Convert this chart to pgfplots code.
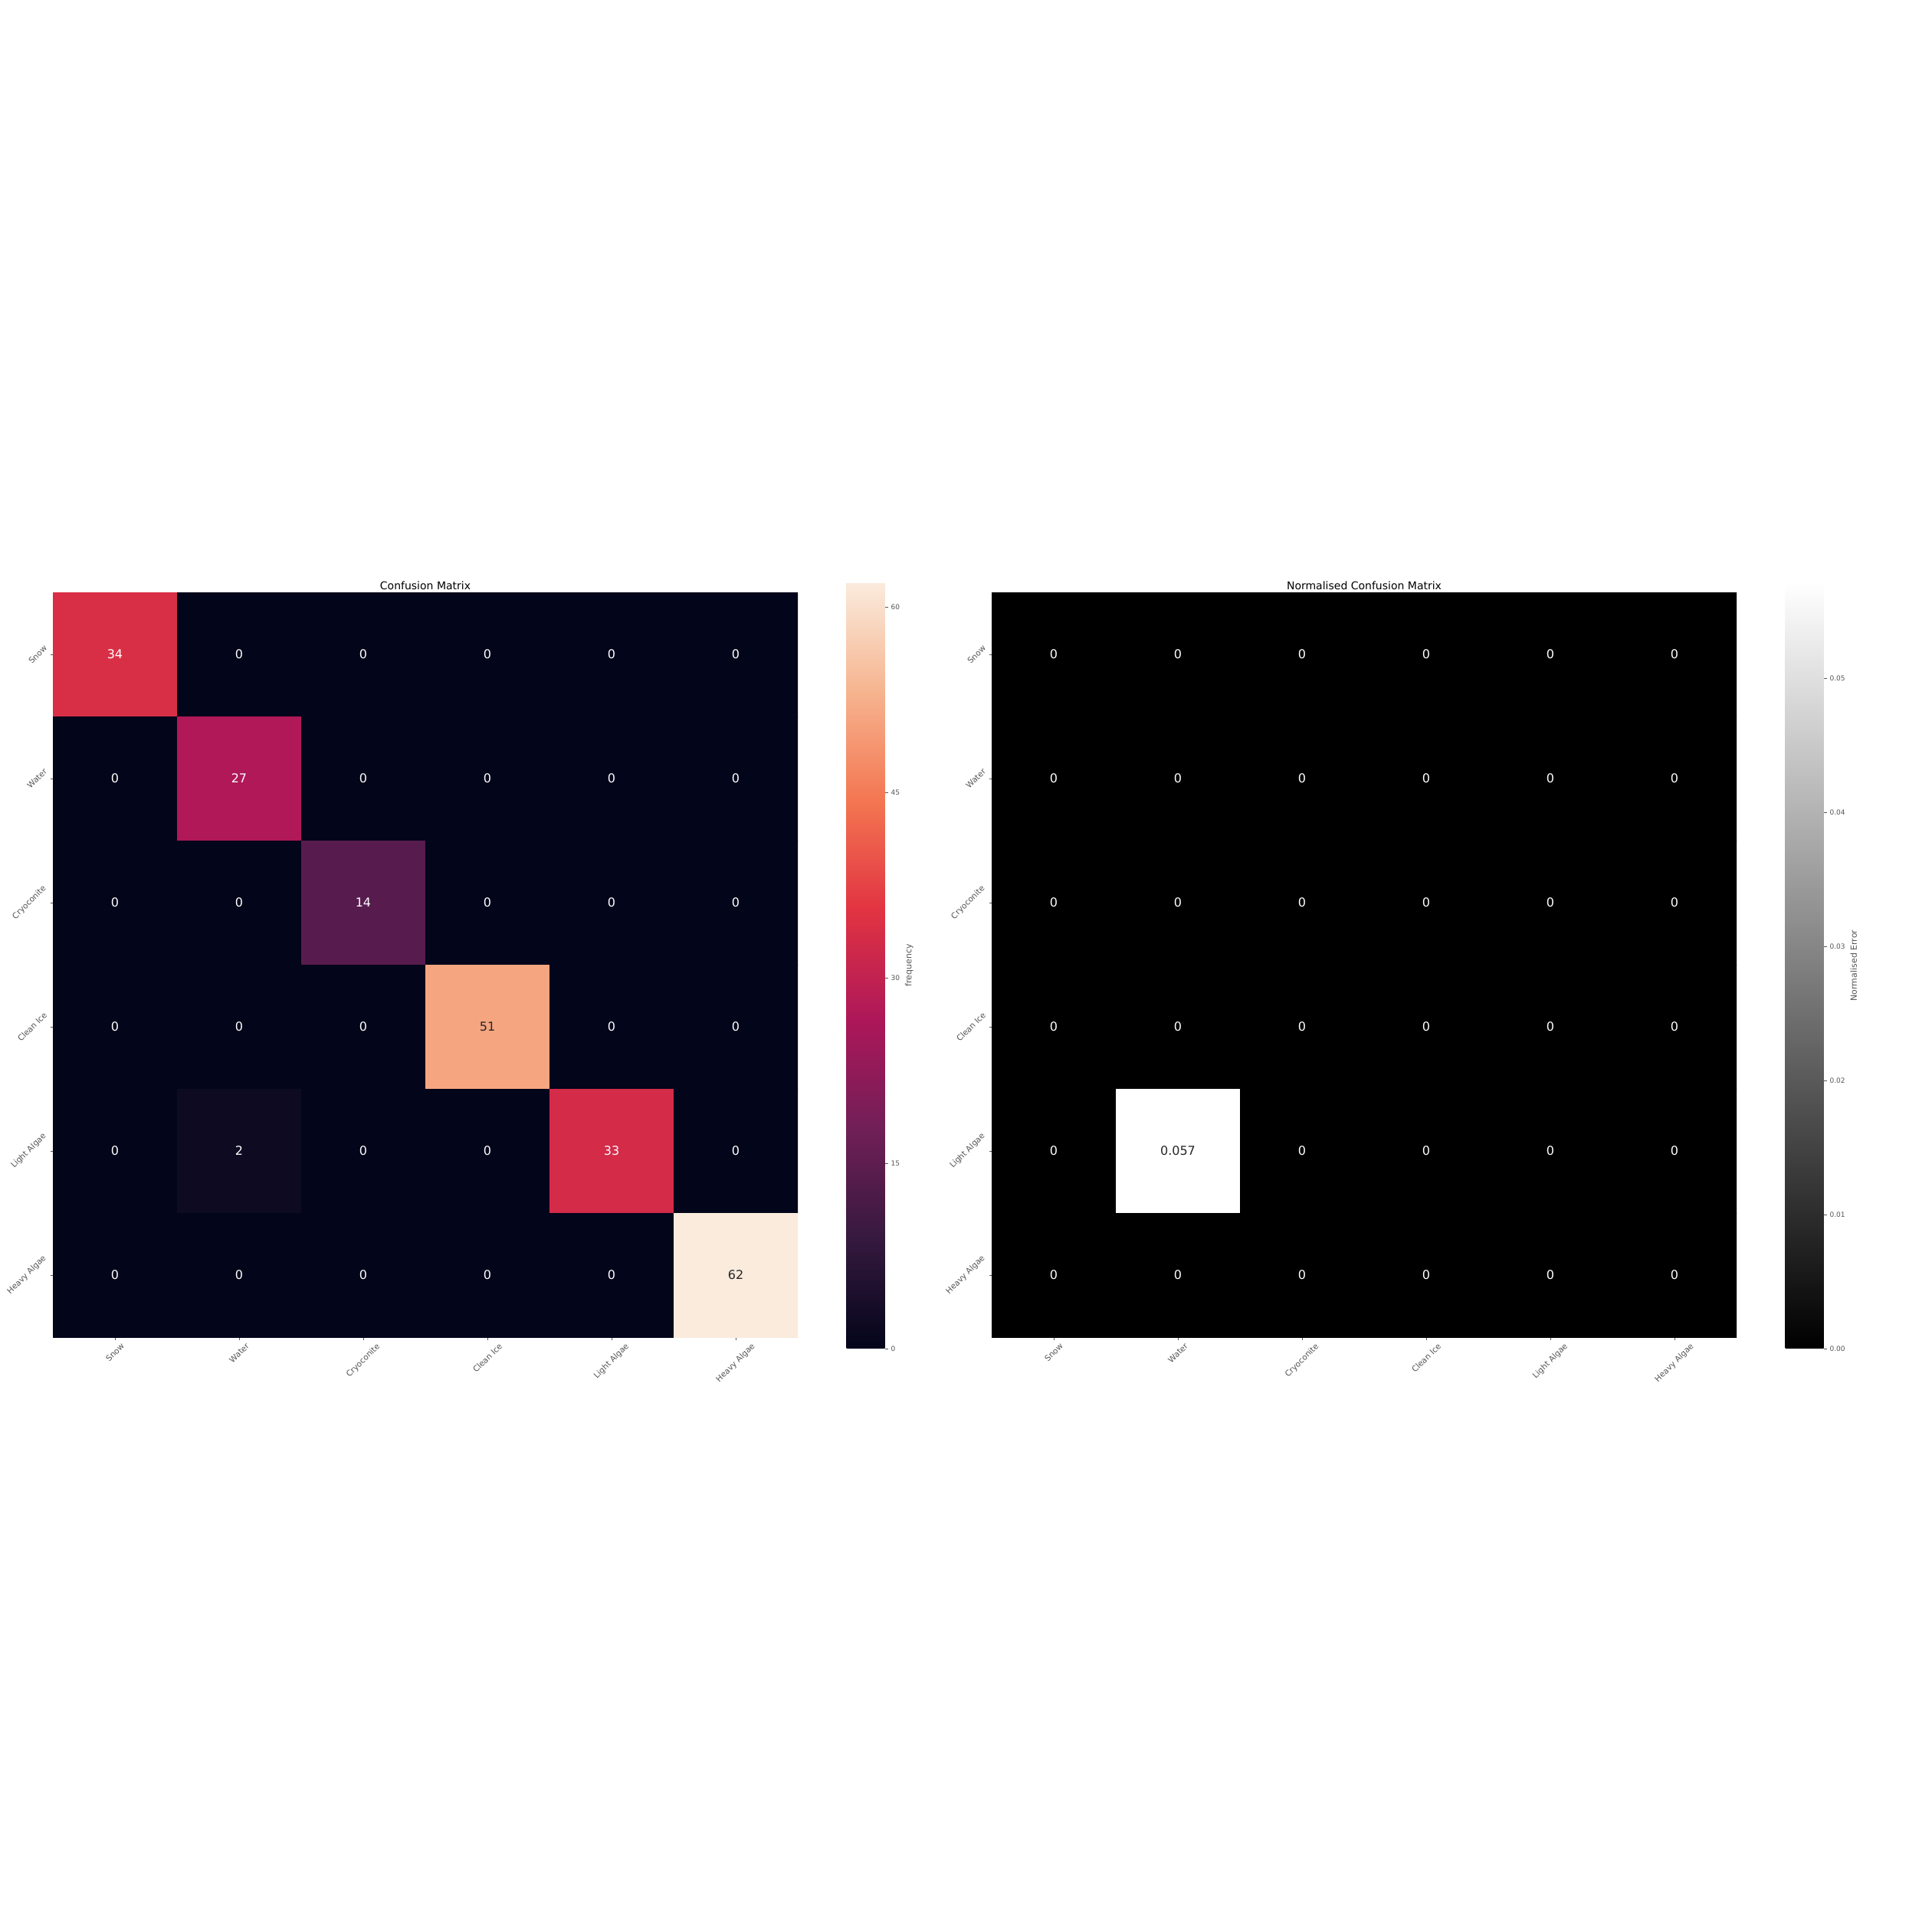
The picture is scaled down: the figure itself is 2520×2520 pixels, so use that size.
\documentclass[border=0pt]{standalone}
\usepackage{graphicx}
\usepackage{pgfplots}
\pgfplotsset{compat=1.18}
\usepackage{fontspec}
\setmainfont{DejaVu Sans}
\definecolor{tickgray}{RGB}{85,85,85}
\definecolor{annodark}{RGB}{38,38,38}
\pgfplotsset{
 colormap={rocket}{rgb255(0)=(3,5,26) rgb255(1)=(53,25,62) rgb255(2)=(112,31,87) rgb255(3)=(173,23,89) rgb255(4)=(225,51,66) rgb255(5)=(243,118,81) rgb255(6)=(246,180,143) rgb255(7)=(250,235,221)},
 colormap={greys}{rgb255(0)=(0,0,0) rgb255(1)=(255,255,255)},
 hm/.style={
  scale only axis, width=972pt, height=972pt, anchor=south west,
  xmin=-0.5, xmax=5.5, ymin=-0.5, ymax=5.5, y dir=reverse, enlargelimits=false,
  axis line style={draw=none},
  tick align=outside, major tick length=3.5pt, tick style={tickgray, line width=0.8pt},
  xtick pos=left, ytick pos=left,
  xtick={0,...,5}, ytick={0,...,5},
  xticklabels={\rotatebox{45}{Snow},\rotatebox{45}{Water},\rotatebox{45}{Cryoconite},\rotatebox{45}{Clean Ice},\rotatebox{45}{Light Algae},\rotatebox{45}{Heavy Algae}},
  yticklabels={\rotatebox{45}{Snow},\rotatebox{45}{Water},\rotatebox{45}{Cryoconite},\rotatebox{45}{Clean Ice},\rotatebox{45}{Light Algae},\rotatebox{45}{Heavy Algae}},
  xticklabel style={anchor=north, font=\fontsize{10.5}{12}\selectfont, text=tickgray},
  yticklabel style={anchor=east, font=\fontsize{10.5}{12}\selectfont, text=tickgray},
  title style={font=\fontsize{14}{16}\selectfont, text=black, yshift=-6pt},
  /pgf/number format/assume math mode=true,
  colorbar, colorbar/width=50pt,
 },
 cb/.style={
  at={(parent axis.south east)}, anchor=south west, xshift=55pt, yshift=-15pt,
  scale only axis, width=50pt, height=1000pt,
  xmin=0, xmax=1, y dir=normal, xtick=\empty,
  axis line style={draw=none},
  ytick pos=right, yticklabel pos=right,
  tick align=outside, major tick length=4.5pt, tick style={tickgray, line width=0.8pt},
  yticklabel style={font=\fontsize{9}{11}\selectfont, text=tickgray},
  ylabel style={font=\fontsize{11}{13}\selectfont, text=tickgray},
  /pgf/number format/assume math mode=true,
 },
 annw/.style={only marks, mark=none, point meta=explicit symbolic, nodes near coords, nodes near coords align=center,
  nodes near coords style={anchor=center, text=white, font=\fontsize{16}{19}\selectfont}},
 annd/.style={only marks, mark=none, point meta=explicit symbolic, nodes near coords, nodes near coords align=center,
  nodes near coords style={anchor=center, text=annodark, font=\fontsize{16}{19}\selectfont}},
}
\begin{document}
\begin{tikzpicture}
\useasboundingbox (0,0) rectangle (2520pt,2520pt);
\fill[white] (0,0) rectangle (2520pt,2520pt);
% ---------------- left: confusion matrix ----------------
\begin{axis}[hm, at={(69pt,775pt)}, title={Confusion Matrix},
  colormap name=rocket, point meta min=0, point meta max=62,
  colorbar style={cb, ytick={0,15,30,45,60}, ylabel={frequency}}]
\addplot[matrix plot*, mesh/cols=6, mesh/rows=6, point meta=explicit] table[meta=c] {
x y c
0 0 34
1 0 0
2 0 0
3 0 0
4 0 0
5 0 0
0 1 0
1 1 27
2 1 0
3 1 0
4 1 0
5 1 0
0 2 0
1 2 0
2 2 14
3 2 0
4 2 0
5 2 0
0 3 0
1 3 0
2 3 0
3 3 51
4 3 0
5 3 0
0 4 0
1 4 2
2 4 0
3 4 0
4 4 33
5 4 0
0 5 0
1 5 0
2 5 0
3 5 0
4 5 0
5 5 62
};
\addplot[annw] table[meta=t] {
x y t
0 0 34
1 0 0
2 0 0
3 0 0
4 0 0
5 0 0
0 1 0
1 1 27
2 1 0
3 1 0
4 1 0
5 1 0
0 2 0
1 2 0
2 2 14
3 2 0
4 2 0
5 2 0
0 3 0
1 3 0
2 3 0
4 3 0
5 3 0
0 4 0
1 4 2
2 4 0
3 4 0
4 4 33
5 4 0
0 5 0
1 5 0
2 5 0
3 5 0
4 5 0
};
\addplot[annd] table[meta=t] {
x y t
3 3 51
5 5 62
};
\end{axis}
% ---------------- right: normalised confusion matrix ----------------
\begin{axis}[hm, at={(1294pt,775pt)}, title={Normalised Confusion Matrix},
  colormap name=greys, point meta min=0, point meta max=0.05714,
  colorbar style={cb, ytick={0,0.01,0.02,0.03,0.04,0.05}, scaled y ticks=false,
   yticklabel style={/pgf/number format/fixed, /pgf/number format/fixed zerofill, /pgf/number format/precision=2},
   ylabel={Normalised Error}}]
\addplot[matrix plot*, mesh/cols=6, mesh/rows=6, point meta=explicit] table[meta=c] {
x y c
0 0 0
1 0 0
2 0 0
3 0 0
4 0 0
5 0 0
0 1 0
1 1 0
2 1 0
3 1 0
4 1 0
5 1 0
0 2 0
1 2 0
2 2 0
3 2 0
4 2 0
5 2 0
0 3 0
1 3 0
2 3 0
3 3 0
4 3 0
5 3 0
0 4 0
1 4 0.05714
2 4 0
3 4 0
4 4 0
5 4 0
0 5 0
1 5 0
2 5 0
3 5 0
4 5 0
5 5 0
};
\addplot[annw] table[meta=t] {
x y t
0 0 0
1 0 0
2 0 0
3 0 0
4 0 0
5 0 0
0 1 0
1 1 0
2 1 0
3 1 0
4 1 0
5 1 0
0 2 0
1 2 0
2 2 0
3 2 0
4 2 0
5 2 0
0 3 0
1 3 0
2 3 0
3 3 0
4 3 0
5 3 0
0 4 0
2 4 0
3 4 0
4 4 0
5 4 0
0 5 0
1 5 0
2 5 0
3 5 0
4 5 0
5 5 0
};
\addplot[annd] table[meta=t] {
x y t
1 4 0.057
};
\end{axis}
\end{tikzpicture}
\end{document}
